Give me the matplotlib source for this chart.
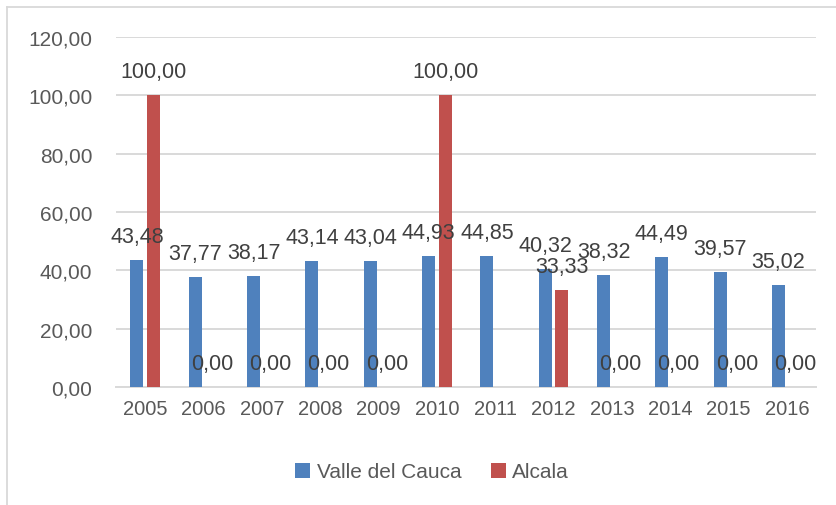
'''
Valle del Cauca vs Alcala, grouped bars 2005-2016
'''

import numpy as np
import matplotlib
matplotlib.use('Agg')
import matplotlib.pyplot as plt
from matplotlib.lines import Line2D

years = ['2005', '2006', '2007', '2008', '2009', '2010',
         '2011', '2012', '2013', '2014', '2015', '2016']
valle = [43.48, 37.77, 38.17, 43.14, 43.04, 44.93,
         44.85, 40.32, 38.32, 44.49, 39.57, 35.02]
# 2011 has no value for Alcala
alcala = [100.00, 0.00, 0.00, 0.00, 0.00, 100.00,
          np.nan, 33.33, 0.00, 0.00, 0.00, 0.00]
series_names = ['Valle del Cauca', 'Alcala']
yticks = [0, 20, 40, 60, 80, 100, 120]

blue = '#4F81BD'
red = '#C0504D'
grid_col = '#D9D9D9'
tick_col = '#595959'
label_col = '#404040'

plt.rcParams['font.family'] = ['Liberation Sans', 'DejaVu Sans']


def fmt(v):
    return '{:.2f}'.format(v).replace('.', ',')


def plotting():
    W, H = 836, 506
    fig = plt.figure(figsize=(W / 100, H / 100), dpi=100)
    ax = fig.add_axes([116 / W, 1 - 388 / H, 700 / W, 350 / H])

    x = np.arange(len(years))
    bw = 0.22
    off = 0.143
    b1 = ax.bar(x - off, valle, bw, color=blue, label=series_names[0], zorder=3)
    b2 = ax.bar(x + off, alcala, bw, color=red, label=series_names[1], zorder=3)

    # value labels over each bar
    for bars, vals in ((b1, valle), (b2, alcala)):
        for rect, v in zip(bars, vals):
            if np.isnan(v):
                continue
            ax.annotate(fmt(v), (rect.get_x() + rect.get_width() / 2, v),
                        xytext=(0, 13), textcoords='offset points',
                        ha='center', va='baseline', fontsize=15.5,
                        color=label_col, zorder=4)

    ax.set_xlim(-0.5, len(years) - 0.5)
    ax.set_ylim(0, 120)
    ax.set_yticks(yticks)
    ax.set_yticklabels([fmt(v) for v in yticks])
    ax.set_xticks(x)
    ax.set_xticklabels(years)
    ax.tick_params(axis='y', length=0, pad=17, labelsize=15, labelcolor=tick_col)
    ax.tick_params(axis='x', length=0, pad=9, labelsize=14.5, labelcolor=tick_col)

    ax.grid(axis='y', color=grid_col, linewidth=1.4, zorder=0)
    for s in ('top', 'right', 'left'):
        ax.spines[s].set_visible(False)
    ax.spines['bottom'].set_color(grid_col)
    ax.spines['bottom'].set_linewidth(1.4)

    fig.legend(loc='center', bbox_to_anchor=(432 / W, 1 - 473 / H), ncol=2,
               frameon=False, fontsize=15, labelcolor=tick_col,
               handlelength=0.75, handleheight=0.75, handletextpad=0.3,
               columnspacing=1.4)

    # chart border (only left and top edges fall inside the picture)
    fig.add_artist(Line2D([7 / W, 7 / W], [0, 1 - 8 / H], color=grid_col,
                          linewidth=1.3, transform=fig.transFigure))
    fig.add_artist(Line2D([7 / W, 1], [1 - 8 / H, 1 - 8 / H], color=grid_col,
                          linewidth=1.3, transform=fig.transFigure))

    fig.savefig('out.png', dpi=100)


plotting()
